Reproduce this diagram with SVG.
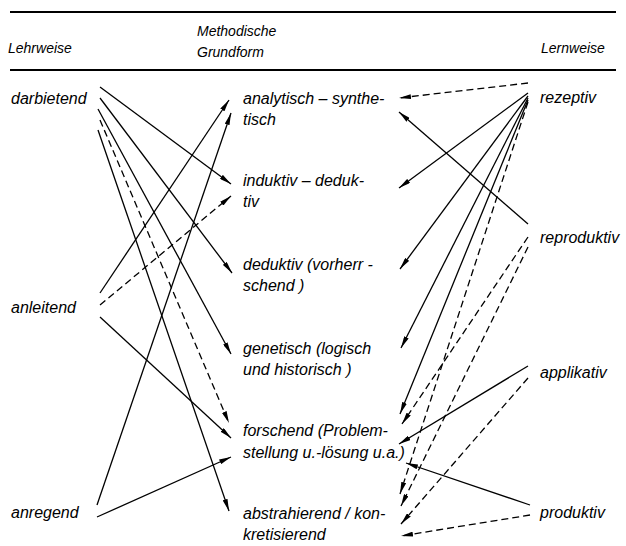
<svg xmlns="http://www.w3.org/2000/svg" width="626" height="546" viewBox="0 0 626 546">
<style>
text{font-family:"Liberation Sans",Arial,sans-serif;font-style:italic;fill:#000}
.h{font-size:14px}
.l{font-size:16px}
.c line{stroke:#000;stroke-width:1.3;fill:none;marker-end:url(#ah)}
.c .d{stroke-dasharray:7 4}
.rule{stroke:#000;stroke-width:2.2}
</style>
<defs>
<marker id="ah" markerUnits="userSpaceOnUse" viewBox="0 0 12 5" refX="12" refY="2.5" markerWidth="12" markerHeight="5" orient="auto">
<path d="M0,0 L12,2.5 L0,5 Z" fill="#000"/>
</marker>
</defs>
<rect width="626" height="546" fill="#fff"/>
<g id="header">
<line class="rule" x1="10" y1="12" x2="616" y2="12"/>
<line class="rule" x1="10" y1="70" x2="616" y2="70"/>
<text class="h" x="8" y="53">Lehrweise</text>
<text class="h" x="197" y="36">Methodische</text>
<text class="h" x="197" y="57">Grundform</text>
<text class="h" x="541" y="53">Lernweise</text>
</g>
<g id="darbietend"><text class="l" x="11" y="104">darbietend</text></g>
<g id="anleitend"><text class="l" x="11" y="313">anleitend</text></g>
<g id="anregend"><text class="l" x="11" y="518">anregend</text></g>
<g id="analytisch"><text class="l" x="243" y="104">analytisch – synthe-</text><text class="l" x="243" y="125">tisch</text></g>
<g id="induktiv"><text class="l" x="243" y="186">induktiv – deduk-</text><text class="l" x="243" y="207">tiv</text></g>
<g id="deduktiv"><text class="l" x="243" y="270">deduktiv (vorherr -</text><text class="l" x="243" y="291">schend )</text></g>
<g id="genetisch"><text class="l" x="243" y="354">genetisch (logisch</text><text class="l" x="243" y="375">und historisch )</text></g>
<g id="forschend"><text class="l" x="243" y="436">forschend (Problem-</text><text class="l" x="243" y="458">stellung u.-lösung u.a.)</text></g>
<g id="abstrahierend"><text class="l" x="243" y="519">abstrahierend / kon-</text><text class="l" x="243" y="540">kretisierend</text></g>
<g id="rezeptiv"><text class="l" x="540" y="103">rezeptiv</text></g>
<g id="reproduktiv"><text class="l" x="540" y="243">reproduktiv</text></g>
<g id="applikativ"><text class="l" x="540" y="378">applikativ</text></g>
<g id="produktiv"><text class="l" x="540" y="518">produktiv</text></g>
<g id="connectors" class="c">
<line x1="100" y1="87" x2="231" y2="184"/>
<line x1="100" y1="98" x2="232" y2="273"/>
<line x1="98" y1="109" x2="231" y2="354"/>
<line class="d" x1="100" y1="120" x2="229" y2="423"/>
<line x1="98" y1="130" x2="229" y2="511"/>
<line x1="100" y1="293" x2="229" y2="100"/>
<line class="d" x1="100" y1="305" x2="231" y2="196"/>
<line x1="100" y1="317" x2="231" y2="438"/>
<line x1="97" y1="505" x2="231" y2="113"/>
<line x1="97" y1="517" x2="231" y2="457"/>
<line class="d" x1="528" y1="83" x2="399" y2="98"/>
<line x1="528" y1="93" x2="399" y2="188"/>
<line x1="528" y1="224" x2="399" y2="112"/>
<line x1="528" y1="96" x2="400" y2="269"/>
<line x1="528" y1="98" x2="401" y2="348"/>
<line x1="528" y1="100" x2="400" y2="414"/>
<line class="d" x1="528" y1="102" x2="400" y2="494"/>
<line class="d" x1="528" y1="237" x2="402" y2="424"/>
<line class="d" x1="528" y1="247" x2="401" y2="506"/>
<line x1="528" y1="366" x2="399" y2="444"/>
<line class="d" x1="528" y1="378" x2="401" y2="524"/>
<line x1="530" y1="505" x2="406" y2="463"/>
<line class="d" x1="530" y1="515" x2="401" y2="536"/>
</g>
</svg>
